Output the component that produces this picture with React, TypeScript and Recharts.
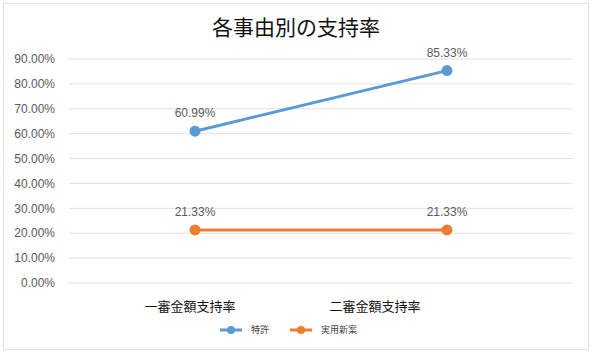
import { LineChart, Line, XAxis, YAxis, CartesianGrid, Legend, LabelList } from 'recharts';

const categories = ['一審金額支持率', '二審金額支持率'];
const patentValues = [0.6099, 0.8533];
const utilityValues = [0.2133, 0.2133];
const yTicks = [0, 0.1, 0.2, 0.3, 0.4, 0.5, 0.6, 0.7, 0.8, 0.9];

const BLUE = '#5B9BD5';
const ORANGE = '#ED7D31';

const data = categories.map((name, i) => ({
  name,
  patent: patentValues[i],
  utility: utilityValues[i],
}));

const pct = (v: number) => `${(v * 100).toFixed(2)}%`;

// the source chart draws its category labels a little left of the points
const TICK_SHIFT = [-5, -72];

function CategoryTick(props: any) {
  const { x, y, payload, index } = props;
  return (
    <text x={x + (TICK_SHIFT[index] ?? 0)} y={y} dy={12} textAnchor="middle" fontSize={13} fill="#111">
      {payload.value}
    </text>
  );
}

function LegendContent() {
  const items = [
    { label: '特許', color: BLUE },
    { label: '実用新案', color: ORANGE },
  ];
  return (
    <div style={{ display: 'flex', justifyContent: 'center', alignItems: 'center', height: 27, gap: 21, fontSize: 9, color: '#404040' }}>
      {items.map((it) => (
        <div key={it.label} style={{ display: 'flex', alignItems: 'center', gap: 9 }}>
          <svg width={22} height={10}>
            <line x1={0} y1={5} x2={22} y2={5} stroke={it.color} strokeWidth={3} />
            <circle cx={11} cy={5} r={4} fill={it.color} />
          </svg>
          <span>{it.label}</span>
        </div>
      ))}
    </div>
  );
}

const labelStyle = { fontSize: 12, fill: '#595959', fontFamily: 'Liberation Sans, Arial, sans-serif' };

export default function App() {
  return (
    <div
      style={{
        position: 'absolute',
        left: 3,
        top: 3,
        width: 584,
        height: 345,
        border: '1px solid #e3e3e3',
        background: '#fff',
        fontFamily: '"Noto Sans CJK JP", "Noto Sans", sans-serif',
      }}
    >
      <div
        style={{
          position: 'absolute',
          top: 7,
          width: '100%',
          textAlign: 'center',
          fontSize: 21,
          color: '#111',
        }}
      >
        各事由別の支持率
      </div>
      <LineChart
        width={584}
        height={345}
        data={data}
        margin={{ top: 55, right: 15, bottom: 6, left: 0 }}
      >
        <CartesianGrid vertical={false} stroke="#e0e0e0" />
        <XAxis
          dataKey="name"
          axisLine={false}
          tickLine={false}
          tick={<CategoryTick />}
          tickMargin={10}
          height={33}
          interval={0}
          padding={{ left: 126, right: 126 }}
        />
        <YAxis
          domain={[0, 0.9]}
          ticks={yTicks}
          tickFormatter={pct}
          axisLine={false}
          tickLine={false}
          tick={labelStyle}
          width={65}
          tickMargin={8}
        />
        <Legend verticalAlign="bottom" height={27} content={<LegendContent />} />
        <Line
          dataKey="patent"
          name="特許"
          stroke={BLUE}
          strokeWidth={3}
          dot={{ r: 4, fill: BLUE, stroke: BLUE }}
          isAnimationActive={false}
        >
          <LabelList dataKey="patent" position="top" offset={14} formatter={(v: number) => pct(v)} style={labelStyle} />
        </Line>
        <Line
          dataKey="utility"
          name="実用新案"
          stroke={ORANGE}
          strokeWidth={3}
          dot={{ r: 4, fill: ORANGE, stroke: ORANGE }}
          isAnimationActive={false}
        >
          <LabelList dataKey="utility" position="top" offset={14} formatter={(v: number) => pct(v)} style={labelStyle} />
        </Line>
      </LineChart>
    </div>
  );
}
